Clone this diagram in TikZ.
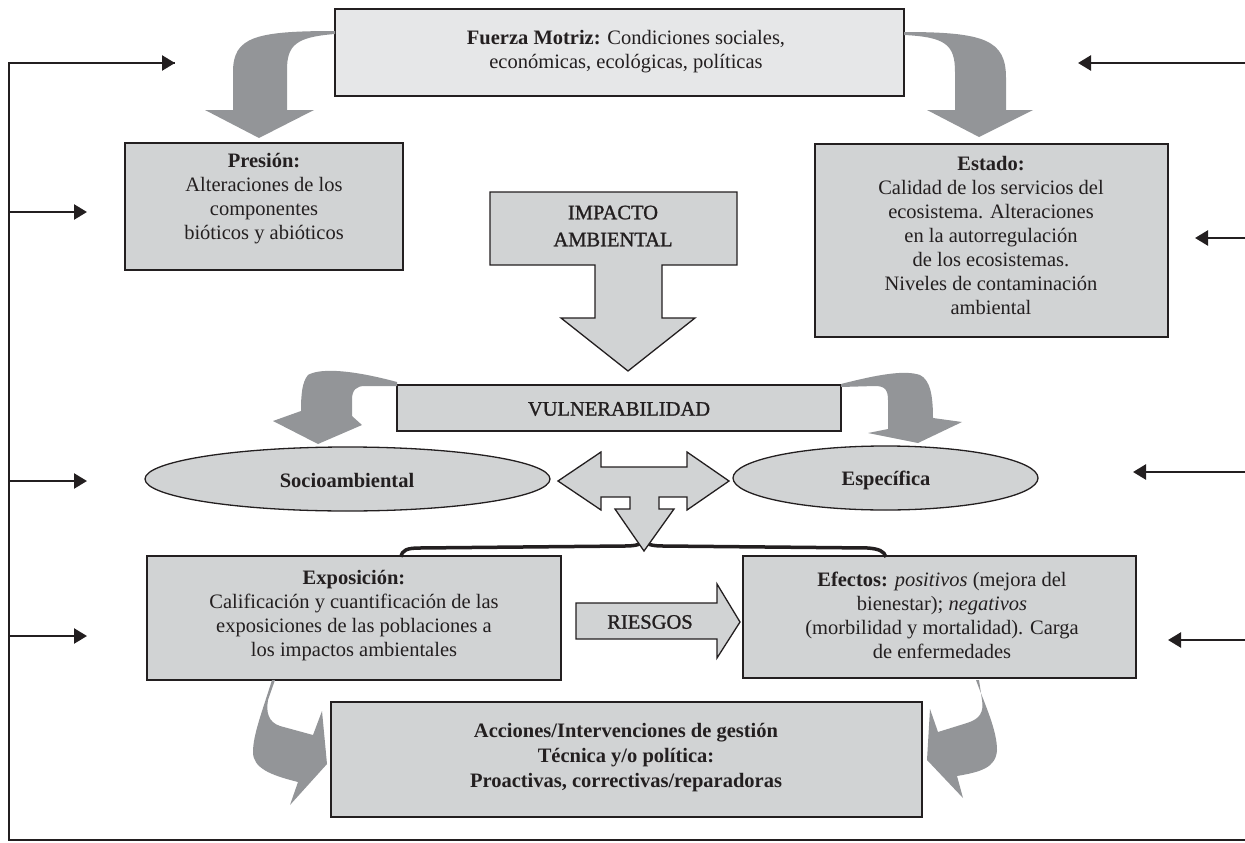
\documentclass[tikz,border=0pt]{standalone}
\usepackage{fontspec}
\setmainfont{Liberation Serif}
\newfontfamily\capsfont[FakeBold=1.2]{Liberation Serif}
\usetikzlibrary{arrows.meta,shapes.geometric}
\definecolor{ink}{HTML}{231F20}
\definecolor{boxfill}{HTML}{D1D3D4}
\definecolor{topfill}{HTML}{E6E7E8}
\definecolor{bend}{HTML}{939598}
\begin{document}
\begin{tikzpicture}[x=1pt,y=-1pt,
  every node/.style={font=\fontsize{20.5}{24}\selectfont, text=ink},
  panel/.style={draw=ink, line width=1.3pt, fill=boxfill, inner sep=0pt},
  oval/.style={panel, ellipse},
  txt/.style={align=center, inner sep=0pt},
  capslabel/.style={txt, font=\fontsize{20.5}{27}\selectfont\capsfont},
  curl/.style={fill=bend, draw=none},
  block/.style={draw=ink, line width=1.3pt, fill=boxfill, line join=miter},
  feed/.style={draw=ink, line width=2.5pt, -{Triangle[length=13pt,width=15pt]}},
  frame/.style={draw=ink, line width=2.5pt},
]
\useasboundingbox (0,0) rectangle (1245,843);

% ---------- boxes ----------
\node[panel, fill=topfill, minimum width=569pt, minimum height=87pt] (fuerza) at (619.5,52.5) {};
\node[panel, minimum width=278pt, minimum height=127pt] (presion) at (264,206.5) {};
\node[panel, minimum width=353pt, minimum height=193pt] (estado) at (991.5,240.5) {};
\node[panel, minimum width=444pt, minimum height=46pt] (vuln) at (619,408) {};
\node[oval, minimum width=405pt, minimum height=64pt] (socio) at (347.5,479) {};
\node[oval, minimum width=305pt, minimum height=64pt] (espec) at (885.5,478) {};
\node[panel, minimum width=414pt, minimum height=124pt] (expo) at (354,618) {};
\node[panel, minimum width=393pt, minimum height=122pt] (efectos) at (939.5,617) {};
\node[panel, minimum width=591pt, minimum height=115pt] (acciones) at (626.5,759.5) {};

% ---------- curved grey arrows ----------
% Fuerza motriz -> Presion
\path[curl] (335,31) .. controls (255,31) and (233,37) .. (233,72) -- (233,110) -- (205,110)
  -- (259,138) -- (314,110) -- (287,110) -- (287,70) .. controls (287,45) and (296,37) .. (335,34) -- cycle;
% Fuerza motriz -> Estado
\path[curl] (904,32) .. controls (985,32) and (1006,40) .. (1006,78) -- (1006,110) -- (1033,110)
  -- (979,137) -- (927,110) -- (955,110) -- (955,72) .. controls (955,45) and (946,37) .. (904,35) -- cycle;
% Vulnerabilidad -> Socioambiental
\path[curl] (397,382) .. controls (345,368) and (318,369) .. (308,375) .. controls (302,382) and (301,395) .. (301,411)
  -- (273,421) -- (318,444) -- (362,425) -- (352,416) -- (352,400) .. controls (352,390) and (356,386) .. (365,386) -- (397,386) -- cycle;
% Vulnerabilidad -> Especifica
\path[curl] (841,384) .. controls (880,374) and (905,370) .. (920,375) .. controls (930,380) and (933,395) .. (933,418)
  -- (962,422) -- (918,443) -- (868,433) -- (888,429) -- (888,400) .. controls (888,390) and (885,386) .. (875,386) -- (841,387) -- cycle;
% Exposicion -> Acciones
\path[curl] (272,680) .. controls (262,712) and (253,735) .. (253,752) .. controls (253,768) and (270,775) .. (298,782)
  -- (290,805) -- (327,764) -- (322,711) -- (313,735) -- (280,726) .. controls (268,722) and (266,712) .. (268,700) -- (275,680) -- cycle;
% Efectos -> Acciones
\path[curl] (976,680) .. controls (985,705) and (997,730) .. (997,750) .. controls (996,768) and (980,772) .. (957,776)
  -- (963,798) -- (927,760) -- (930,709) -- (938,732) -- (967,723) .. controls (980,719) and (984,712) .. (982,700) -- (979,680) -- cycle;

% ---------- block arrows ----------
\path[block] (490,192) -- (737,192) -- (737,265) -- (662,265) -- (662,318) -- (695,318) -- (628,371)
  -- (561,318) -- (595,318) -- (595,265) -- (490,265) -- cycle;
\path[block] (576,603) -- (717,603) -- (717,584) -- (740,622) -- (717,658) -- (717,639) -- (576,639) -- cycle;

% brace joining Exposicion and Efectos
\draw[ink, line width=3.5pt] (401,557) .. controls (402,550) and (407,548) .. (420,548) -- (625,546)
  .. controls (637,546) and (641,544) .. (644,541) .. controls (647,544) and (651,546) .. (663,546)
  -- (868,548) .. controls (879,549) and (884,551) .. (886,557);

% three-way arrow below the ovals
\path[block] (558,481) -- (601,452) -- (601,467) -- (687,467) -- (687,452) -- (729,481) -- (687,510)
  -- (687,497) -- (659,497) -- (659,509) -- (674,509) -- (644,551) -- (615,509) -- (630,509)
  -- (630,497) -- (601,497) -- (601,510) -- cycle;

% ---------- texts ----------
\node[txt] (tfuerza) at (626,52) {\textbf{Fuerza Motriz:} Condiciones sociales,\\ económicas, ecológicas, políticas};
\node[txt] (tpresion) at (264,199) {\textbf{Presión:}\\ Alteraciones de los\\ componentes\\ bióticos y abióticos};
\node[txt] (testado) at (991,235) {\textbf{Estado:}\\ Calidad de los servicios del\\ ecosistema. Alteraciones\\ en la autorregulación\\ de los ecosistemas.\\ Niveles de contaminación\\ ambiental};
\node[capslabel] (timpacto) at (613,226) {IMPACTO\\ AMBIENTAL};
\node[capslabel] (tvuln) at (619,409) {VULNERABILIDAD};
\node[txt] (tsocio) at (347,480) {\textbf{Socioambiental}};
\node[txt] (tespec) at (886,480) {\textbf{Específica}};
\node[txt] (texpo) at (354,616) {\textbf{Exposición:}\\ Calificación y cuantificación de las\\ exposiciones de las poblaciones a\\ los impactos ambientales};
\node[txt] (tefectos) at (942,615) {\textbf{Efectos:} \textit{positivos} (mejora del\\ bienestar); \textit{negativos}\\ (morbilidad y mortalidad). Carga\\ de enfermedades};
\node[capslabel] (triesgos) at (650,622) {RIESGOS};
\node[txt, font=\fontsize{20.5}{25}\selectfont\bfseries] (tacciones) at (626,758) {Acciones/Intervenciones de gestión\\ Técnica y/o política:\\ Proactivas, correctivas/reparadoras};

% ---------- feedback lines ----------
\coordinate (lt) at (9,63);
\coordinate (lb) at (9,840);
\coordinate (rb) at (1245,840);
\coordinate (l1) at (175,63);
\coordinate (l2s) at (9,212);  \coordinate (l2) at (87,212);
\coordinate (l3s) at (9,481);  \coordinate (l3) at (87,481);
\coordinate (l4s) at (9,636);  \coordinate (l4) at (87,636);
\coordinate (r1s) at (1245,63);  \coordinate (r1) at (1078,63);
\coordinate (r2s) at (1245,238); \coordinate (r2) at (1195,238);
\coordinate (r3s) at (1245,472); \coordinate (r3) at (1133,472);
\coordinate (r4s) at (1245,640); \coordinate (r4) at (1168,640);

\draw[frame, line join=miter] (rb) -- (lb) -- (lt) -- (l1);
\draw[feed] (lt) -- (l1);
\draw[feed] (l2s) -- (l2);
\draw[feed] (l3s) -- (l3);
\draw[feed] (l4s) -- (l4);
\draw[feed] (r1s) -- (r1);
\draw[feed] (r2s) -- (r2);
\draw[feed] (r3s) -- (r3);
\draw[feed] (r4s) -- (r4);
\end{tikzpicture}
\end{document}
